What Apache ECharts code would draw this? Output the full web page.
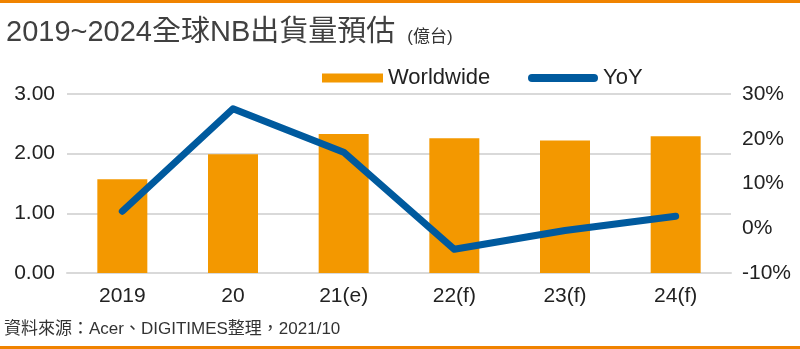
<!DOCTYPE html>
<html><head><meta charset="utf-8">
<script src="https://cdn.jsdelivr.net/npm/echarts@6/dist/echarts.min.js"></script>
<style>html,body{margin:0;padding:0;background:#fff}#c{width:800px;height:349px}</style>
</head><body><div id="c"></div>
<script>
const categories = ['2019','20','21(e)','22(f)','23(f)','24(f)'];
const worldwide = [1.57, 1.99, 2.33, 2.26, 2.22, 2.29];
const yoy = [3.8, 26.7, 17.0, -4.7, -0.5, 2.7];
const leftTicks = {min:0, max:3, interval:1};
const rightTicks = {min:-10, max:30, interval:10};

const chart = echarts.init(document.getElementById('c'));
const font = '"Liberation Sans", Arial, "Noto Sans CJK TC", sans-serif';
const legendText = {fontSize:22, color:'#222', fontFamily:font};
chart.setOption({
  animation:false,
  textStyle:{fontFamily:font},
  title:{
    text:'2019~2024全球NB出貨量預估{s|(億台)}',
    left:1, top:12,
    textStyle:{fontSize:29, fontWeight:'normal', color:'#404040', fontFamily:font, lineHeight:32,
      rich:{s:{fontSize:17, color:'#333', fontFamily:font, padding:[8,0,0,12]}}}
  },
  graphic:[
    {type:'rect', shape:{x:0,y:0,width:800,height:3}, style:{fill:'#f08300'}},
    {type:'rect', shape:{x:0,y:346,width:800,height:3}, style:{fill:'#f08300'}},
    {type:'text', left:4, top:321, style:{text:'資料來源：Acer、DIGITIMES整理，2021/10', fontSize:17, fill:'#333', fontFamily:font}}
  ],
  legend:[
    {left:317, top:62, textStyle:legendText, itemWidth:61, itemHeight:9, itemGap:6,
      data:[{name:'Worldwide', icon:'rect', itemStyle:{color:'#f39800'}}]},
    {left:523, top:62, textStyle:legendText, itemWidth:70, itemHeight:9, itemGap:6,
      data:[{name:'YoY', icon:'path://M4,0 L66,0 A4,4 0 0 1 66,8 L4,8 A4,4 0 0 1 4,0 Z', itemStyle:{color:'#005a9e'}}]}
  ],
  grid:{left:67, right:69, top:94, bottom:76},
  xAxis:{
    type:'category', data:categories,
    axisLine:{show:true, lineStyle:{color:'#d9d9d9', width:2}},
    axisTick:{show:false},
    axisLabel:{fontSize:21, color:'#222', margin:13}
  },
  yAxis:[
    {type:'value', min:leftTicks.min, max:leftTicks.max, interval:leftTicks.interval,
      axisLine:{show:false}, axisTick:{show:false},
      axisLabel:{fontSize:21, color:'#222', margin:12, formatter:v=>v.toFixed(2)},
      splitLine:{lineStyle:{color:'#d9d9d9', width:2}}},
    {type:'value', min:rightTicks.min, max:rightTicks.max, interval:rightTicks.interval,
      axisLine:{show:false}, axisTick:{show:false},
      axisLabel:{fontSize:21, color:'#222', margin:11, formatter:v=>v+'%'},
      splitLine:{show:false}}
  ],
  series:[
    {name:'Worldwide', type:'bar', data:worldwide, barWidth:50, itemStyle:{color:'#f39800'}},
    {name:'YoY', type:'line', yAxisIndex:1, data:yoy, symbol:'none',
      lineStyle:{color:'#005a9e', width:7, cap:'round', join:'round'}, itemStyle:{color:'#005a9e'}}
  ]
});
</script></body></html>
